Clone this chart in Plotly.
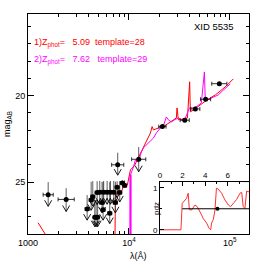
import numpy as np
import plotly.graph_objects as go

# ---------------- data ----------------
# photometric detections (log10 lambda [A], mag, half-width of filter in dex)
det_loglam = [4.332, 4.553, 4.658, 4.760, 4.896]
det_mag = [21.79, 21.42, 20.77, 20.21, 19.31]
det_dex = [0.036, 0.045, 0.045, 0.050, 0.075]

# points drawn with long error bars and downward arrows
lim_loglam = [3.200, 3.378, 3.889, 4.097,
              3.586, 3.626, 3.642, 3.662, 3.675, 3.690, 3.685, 3.711, 3.734,
              3.744, 3.750, 3.784, 3.810, 3.817, 3.850, 3.866, 3.883, 3.909,
              3.935, 3.958]
lim_mag = [25.73, 26.00, 24.00, 23.68,
           26.55, 26.03, 25.84, 27.03, 27.03, 27.03, 25.60, 25.58, 26.18,
           26.60, 25.58, 25.58, 26.80, 25.58, 25.58, 26.18, 25.30, 25.60,
           25.05, 25.20]
lim_dex = [0.050, 0.080, 0.060, 0.070,
           0.020, 0.020, 0.020, 0.015, 0.015, 0.015, 0.020, 0.020, 0.020,
           0.020, 0.020, 0.020, 0.020, 0.020, 0.020, 0.020, 0.020, 0.020,
           0.020, 0.020]
lim_up = [0.73, 0.65, 0.70, 0.71,
          0.80, 1.05, 0.90, 1.00, 1.00, 1.00, 0.65, 0.65, 1.20,
          1.60, 0.65, 0.65, 1.80, 0.65, 0.65, 1.20, 0.35, 0.65,
          0.15, 0.30]
lim_down = [0.67, 0.70, 0.60, 0.72,
            0.65, 0.60, 0.55, 0.55, 0.55, 0.55, 0.70, 0.70, 0.60,
            0.60, 0.70, 0.70, 0.60, 0.70, 0.70, 0.60, 0.60, 0.55,
            0.00, 0.00]

# best-fit template 1 (z=5.09, template 28), red
red_loglam = [3.100, 3.130, 3.170, 3.250, 3.860, 3.866, 3.896, 3.926, 3.955,
              3.985, 4.015, 4.054, 4.094, 4.134, 4.183, 4.213, 4.230, 4.243,
              4.292, 4.342, 4.381, 4.431, 4.470, 4.477, 4.490, 4.540, 4.580,
              4.602, 4.609, 4.639, 4.688, 4.748, 4.807, 4.856, 4.906, 4.965,
              5.035]
red_mag = [27.35, 27.60, 28.00, 29.00, 29.50, 25.84, 25.45, 25.57, 25.05,
           25.16, 24.29, 24.06, 23.60, 23.14, 22.56, 22.16, 21.79, 21.98,
           21.87, 21.81, 21.64, 21.46, 21.29, 20.71, 21.40, 21.35, 21.29,
           19.20, 20.94, 20.83, 20.60, 20.36, 20.13, 19.96, 19.73, 19.44,
           19.03]

# template 2 (z=7.62, template 29), magenta
mag_loglam = [4.015, 4.016, 4.045, 4.064, 4.094, 4.124, 4.144, 4.173, 4.213,
              4.243, 4.272, 4.312, 4.342, 4.371, 4.391, 4.421, 4.451, 4.490,
              4.520, 4.560, 4.599, 4.639, 4.679, 4.718, 4.748, 4.757, 4.797,
              4.837, 4.886, 4.926, 4.965, 5.005]
mag_mag = [28.60, 24.58, 24.12, 23.72, 23.84, 23.25, 23.02, 22.85, 22.62,
           22.45, 22.16, 21.87, 21.75, 21.23, 21.40, 21.52, 21.40, 21.29,
           21.40, 21.29, 20.71, 20.71, 20.60, 20.42, 18.63, 20.31, 20.19,
           20.08, 19.96, 19.73, 19.55, 19.32]

# redshift probability distribution (inset)
pdz_z = [0.00, 1.86, 1.97, 2.12, 2.36, 2.50, 2.60, 2.80, 3.10, 3.30, 3.48,
         3.69, 3.83, 4.13, 4.34, 4.49, 4.57, 4.72, 4.87, 5.00, 5.15, 5.46,
         5.75, 6.05, 6.25, 6.49, 6.78, 7.08, 7.23, 7.37, 7.52, 7.67, 7.90]
pdz_p = [0.00, 0.00, 0.63, 0.67, 0.75, 0.87, 0.48, 0.47, 0.59, 0.55, 0.47,
         0.35, 0.27, 0.16, 0.04, 0.00, 0.16, 0.24, 0.47, 0.99, 0.97, 0.87,
         0.71, 0.59, 0.55, 0.63, 0.72, 0.87, 0.89, 0.55, 0.51, 0.92, 0.90]
pdz_level_z = [1.97, 7.90]
pdz_level_p = [0.50, 0.50]
zphot = [5.09, 7.62]
template = [28, 29]

x_major = [1000, 10000, 100000]
x_major_text = ["1000", "10<sup>4</sup>", "10<sup>5</sup>"]
y_major = [20, 25]

# ---------------- figure ----------------
FONT = "Liberation Sans"
fig = go.Figure()

fig.add_trace(go.Scatter(x=10 ** np.array(red_loglam), y=red_mag, mode="lines",
                         line=dict(color="#ff0000", width=1), showlegend=False))
fig.add_trace(go.Scatter(x=10 ** np.array(mag_loglam[:2]), y=mag_mag[:2], mode="lines",
                         line=dict(color="#ff00ff", width=3), opacity=0.6, showlegend=False))
fig.add_trace(go.Scatter(x=10 ** np.array(mag_loglam), y=mag_mag, mode="lines",
                         line=dict(color="#ff00ff", width=1), showlegend=False))

# limit-style points
ll = np.array(lim_loglam)
lam = 10 ** ll
d = np.array(lim_dex)
fig.add_trace(go.Scatter(
    x=lam, y=lim_mag, mode="markers",
    marker=dict(color="black", size=5),
    error_x=dict(type="data", symmetric=False, array=lam * (10 ** d - 1),
                 arrayminus=lam * (1 - 10 ** (-d)), color="black", thickness=0.8, width=2),
    error_y=dict(type="data", symmetric=False, array=lim_down, arrayminus=lim_up,
                 color="#333333", thickness=0.8, width=0),
    showlegend=False))

# arrow heads
ax, ay = [], []
for lg, m, dn in zip(lim_loglam, lim_mag, lim_down):
    if dn <= 0:
        continue
    tip = m + dn
    ax += [10 ** (lg - 0.035), 10 ** lg, 10 ** (lg + 0.035), None]
    ay += [tip - 0.35, tip, tip - 0.35, None]
fig.add_trace(go.Scatter(x=ax, y=ay, mode="lines", line=dict(color="black", width=0.9),
                         showlegend=False))

# detections
dl = 10 ** np.array(det_loglam)
dd = np.array(det_dex)
fig.add_trace(go.Scatter(
    x=dl, y=det_mag, mode="markers",
    marker=dict(color="black", size=5),
    error_x=dict(type="data", symmetric=False, array=dl * (10 ** dd - 1),
                 arrayminus=dl * (1 - 10 ** (-dd)), color="black", thickness=0.8, width=2),
    showlegend=False))

# inset pdz
fig.add_trace(go.Scatter(x=pdz_z, y=pdz_p, mode="lines", xaxis="x2", yaxis="y2",
                         line=dict(color="#ff3030", width=1), showlegend=False))
fig.add_trace(go.Scatter(x=pdz_level_z, y=pdz_level_p, mode="lines", xaxis="x2", yaxis="y2",
                         line=dict(color="black", width=1), showlegend=False))
fig.add_trace(go.Scatter(x=[zphot[0]], y=[pdz_level_p[0]], mode="markers", xaxis="x2", yaxis="y2",
                         marker=dict(color="black", size=4), showlegend=False))

tickfont = dict(family=FONT, size=9, color="black")
fig.update_layout(
    width=263, height=263,
    margin=dict(l=28, r=14, t=14, b=29),
    paper_bgcolor="white", plot_bgcolor="white",
    font=dict(family=FONT, size=9, color="black"),
    xaxis=dict(type="log", range=[3.0, 5.19], showline=True, linecolor="black", linewidth=1,
               mirror="ticks", ticks="inside", ticklen=6, tickcolor="black",
               tickvals=x_major, ticktext=x_major_text, tickfont=tickfont,
               showgrid=False, zeroline=False,
               minor=dict(tickvals=[v * k for v in [1000, 10000, 100000] for k in range(2, 10)],
                          ticks="inside", ticklen=3, tickcolor="black", showgrid=False)),
    yaxis=dict(range=[28.0, 15.28], showline=True, linecolor="black", linewidth=1,
               mirror="ticks", ticks="inside", ticklen=6, tickcolor="black",
               tickvals=y_major, tickfont=tickfont, showgrid=False, zeroline=False,
               minor=dict(dtick=1, ticks="inside", ticklen=3, tickcolor="black", showgrid=False)),
    xaxis2=dict(domain=[0.597, 1.0], anchor="y2", side="top", range=[0, 7.88],
                showline=True, linecolor="black", linewidth=1, mirror=True,
                ticks="inside", ticklen=4, tickcolor="black", tickvals=[0, 2, 4, 6],
                tickfont=dict(family=FONT, size=8, color="black"), showgrid=False, zeroline=False,
                minor=dict(dtick=1, ticks="inside", ticklen=2, tickcolor="black", showgrid=False)),
    yaxis2=dict(domain=[0.0, 0.236], anchor="x2", range=[-0.1, 1.135],
                showline=True, linecolor="black", linewidth=1, mirror=True,
                ticks="inside", ticklen=4, tickcolor="black", tickvals=[0, 1],
                tickfont=dict(family=FONT, size=8, color="black"), showgrid=False, zeroline=False,
                minor=dict(dtick=0.5, ticks="inside", ticklen=2, tickcolor="black", showgrid=False)),
)

nb = "\u00a0"
fig.add_annotation(xref="paper", yref="paper", x=0.941, y=0.941, xanchor="right", yanchor="middle",
                   text="XID" + nb + "5535", showarrow=False, font=dict(family=FONT, size=9.5, color="black"))
fig.add_annotation(xref="paper", yref="paper", x=0.02, y=0.868, xanchor="left", yanchor="middle",
                   text="1)Z<sub>phot</sub>=" + nb * 3 + f"{zphot[0]:.2f}" + nb * 2 + f"template={template[0]}",
                   showarrow=False, font=dict(family=FONT, size=9, color="#ff0000"))
fig.add_annotation(xref="paper", yref="paper", x=0.02, y=0.791, xanchor="left", yanchor="middle",
                   text="2)Z<sub>phot</sub>=" + nb * 3 + f"{zphot[1]:.2f}" + nb * 3 + f"template={template[1]}",
                   showarrow=False, font=dict(family=FONT, size=9, color="#ff00ff"))
fig.add_annotation(xref="paper", yref="paper", x=0.5, y=-0.1, xanchor="center", yanchor="middle",
                   text="λ(Å)", showarrow=False, font=dict(family=FONT, size=9, color="black"))
fig.add_annotation(xref="paper", yref="paper", x=-0.095, y=0.5, xanchor="center", yanchor="middle",
                   text="mag<sub>AB</sub>", textangle=-90, showarrow=False,
                   font=dict(family=FONT, size=9, color="black"))
fig.add_annotation(xref="paper", yref="paper", x=0.579, y=0.118, xanchor="center", yanchor="middle",
                   text="pdz", textangle=-90, showarrow=False,
                   font=dict(family=FONT, size=8, color="black"))

fig.write_html("out.html", config={"displayModeBar": False},
               post_script="document.body.style.margin='0px';document.body.style.overflow='hidden';")
